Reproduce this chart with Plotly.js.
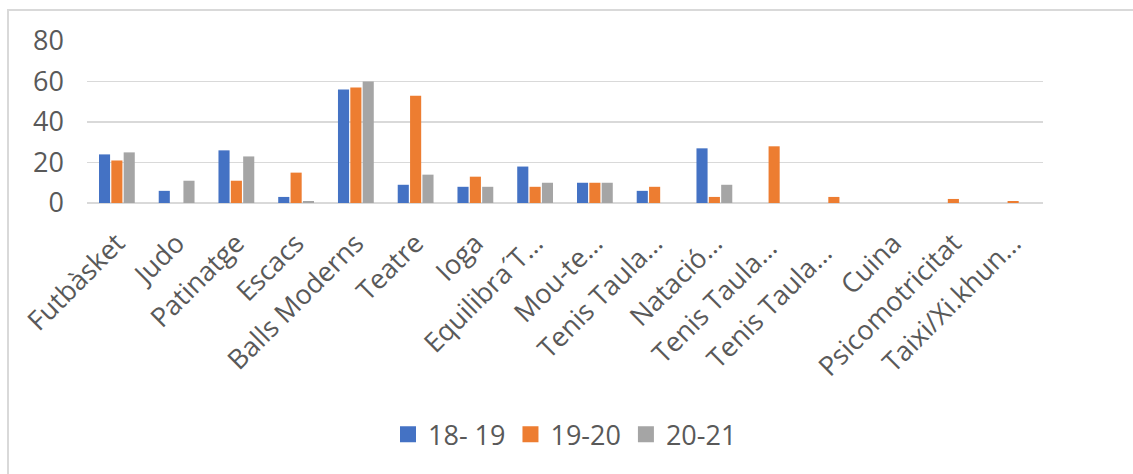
<!DOCTYPE html>
<html>
<head>
<meta charset="utf-8">
<script src="https://cdn.plot.ly/plotly-3.0.1.min.js"></script>
<style>
  html, body { margin: 0; padding: 0; background: #fff; overflow: hidden; }
  #wrap { position: relative; width: 1133px; height: 474px; }
  #chart { position: absolute; left: 0; top: 0; width: 1133px; height: 474px; }
  #frame { position: absolute; left: 7px; top: 9px; width: 1140px; height: 480px;
           border-left: 2px solid #d9d9d9; border-top: 2px solid #d9d9d9; pointer-events: none; }
</style>
</head>
<body>
<div id="wrap">
  <div id="chart"></div>
  <div id="frame"></div>
</div>
<script>
const categories = ["Futbàsket", "Judo", "Patinatge", "Escacs", "Balls Moderns", "Teatre", "Ioga",
  "Equilibra´T…", "Mou-te…", "Tenis Taula…", "Natació…", "Tenis Taula… ", "Tenis Taula…  ",
  "Cuina", "Psicomotricitat", "Taixi/Xi.khun…"];
const seriesNames = ["18- 19", "19-20", "20-21"];
const s1819 = [24, 6, 26, 3, 56, 9, 8, 18, 10, 6, 27, 0, 0, 0, 0, 0];
const s1920 = [21, 0, 11, 15, 57, 53, 13, 8, 10, 8, 3, 28, 3, 0, 2, 1];
const s2021 = [25, 11, 23, 1, 60, 14, 8, 10, 10, 0, 9, 0, 0, 0, 0, 0];
const yTicks = [0, 20, 40, 60, 80];

const colors = ["#4472c4", "#ed7d31", "#a5a5a5"];
const values = [s1819, s1920, s2021];
const font = { family: "Open Sans, sans-serif", color: "#595959", size: 27 };

const bars = values.map((v, i) => ({
  type: "bar",
  name: seriesNames[i],
  x: categories,
  y: v,
  showlegend: false,
  marker: { color: colors[i], line: { width: 0 } }
}));
// legend entries with Excel-like square swatches
const legendItems = seriesNames.map((n, i) => ({
  type: "scatter", mode: "markers", name: n,
  x: [null], y: [null],
  marker: { symbol: "square", size: 18, color: colors[i] },
  showlegend: true
}));

const layout = {
  width: 1133, height: 474,
  margin: { l: 87, r: 90, t: 41, b: 271 },
  paper_bgcolor: "#ffffff", plot_bgcolor: "#ffffff",
  font: font,
  barmode: "group",
  bargap: 0.38,
  bargroupgap: 0.1,
  showlegend: true,
  legend: {
    orientation: "h", x: 0.5, xanchor: "center", y: -1.43, yanchor: "middle",
    font: font, traceorder: "normal", itemwidth: 30
  },
  xaxis: {
    type: "category",
    tickangle: -45,
    tickfont: font,
    showgrid: false,
    showline: false,
    zeroline: false,
    ticks: "",
    ticklabelstandoff: 18,
    automargin: false
  },
  yaxis: {
    range: [0, 80],
    tickvals: yTicks,
    ticktext: yTicks.map(String),
    tickfont: font,
    showgrid: true,
    gridcolor: "#d9d9d9",
    gridwidth: 1.5,
    zeroline: true,
    zerolinecolor: "#d9d9d9",
    zerolinewidth: 1.5,
    showline: false,
    ticks: "",
    ticklabelstandoff: 22,
    automargin: false
  }
};

Plotly.newPlot("chart", bars.concat(legendItems), layout, { displayModeBar: false, staticPlot: true });
</script>
</body>
</html>
